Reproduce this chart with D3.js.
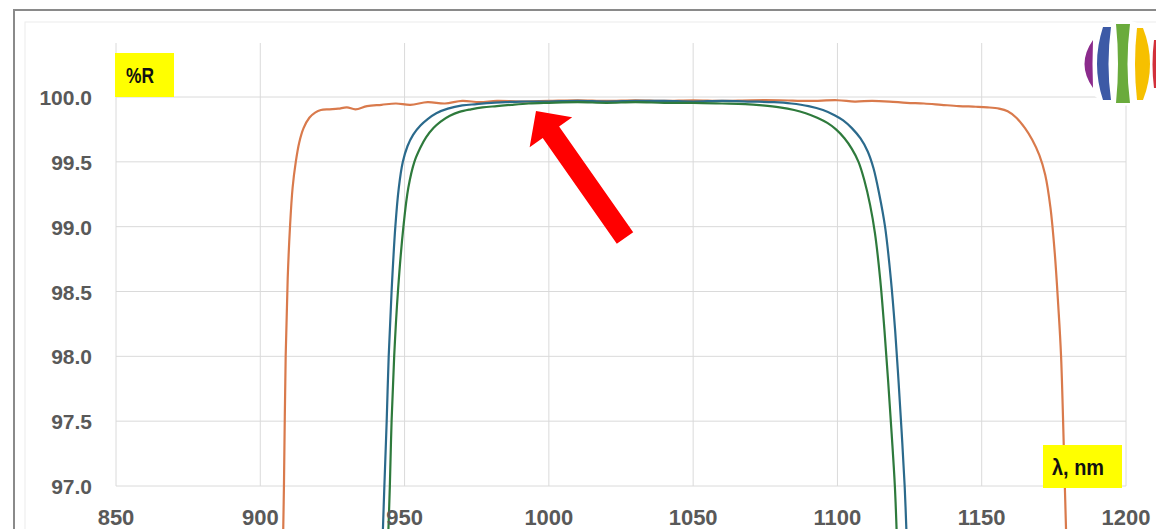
<!DOCTYPE html>
<html>
<head>
<meta charset="utf-8">
<script src="https://cdn.jsdelivr.net/npm/d3@7"></script>
<style>
  body { margin: 0; background: #fff; }
  svg { display: block; font-family: "Liberation Sans", Arial, sans-serif; }
</style>
</head>
<body>
<div id="chart"></div>
<script>
// tick values
var xTicks = [850, 900, 950, 1000, 1050, 1100, 1150, 1200];
var yTicks = [97.0, 97.5, 98.0, 98.5, 99.0, 99.5, 100.0];

// reflectance curves, [wavelength nm, %R]
var orangeCurve = [
  [907.9, 96.6], [908.2, 97.0], [908.8, 98.0], [909.5, 98.6], [910.3, 99.0], [911.2, 99.3],
  [912.3, 99.5], [913.5, 99.65], [915, 99.76], [917, 99.84], [919, 99.88], [921, 99.9],
  [924, 99.905], [927, 99.91], [930, 99.92], [933, 99.905], [937, 99.93], [942, 99.94],
  [947, 99.95], [952, 99.94], [958, 99.96], [964, 99.95], [970, 99.97], [976, 99.96],
  [982, 99.97], [990, 99.965], [1000, 99.97], [1010, 99.975], [1020, 99.97], [1030, 99.975],
  [1040, 99.97], [1050, 99.975], [1060, 99.97], [1070, 99.975], [1080, 99.975], [1090, 99.97],
  [1100, 99.975], [1106, 99.965], [1112, 99.97], [1118, 99.965], [1124, 99.955], [1130, 99.95],
  [1136, 99.94], [1142, 99.93], [1148, 99.925], [1152, 99.92], [1156, 99.91], [1159, 99.89],
  [1162, 99.84], [1165, 99.76], [1167.5, 99.67], [1170, 99.55], [1172, 99.4], [1173.8, 99.15],
  [1175.3, 98.8], [1176.5, 98.4], [1177.5, 98.0], [1178.8, 97.0], [1179.3, 96.6]
];
var blueCurve = [
  [942.4, 96.6], [943, 97.0], [943.8, 97.5], [944.5, 98.0], [945.5, 98.5], [946.8, 99.0],
  [948, 99.3], [949.4, 99.5], [951, 99.62], [953, 99.71], [955.5, 99.78], [958, 99.83],
  [961, 99.875], [965, 99.91], [970, 99.935], [975, 99.945], [980, 99.955], [985, 99.96],
  [990, 99.965], [1000, 99.965], [1010, 99.97], [1020, 99.965], [1030, 99.97], [1040, 99.97],
  [1050, 99.965], [1060, 99.97], [1070, 99.965], [1078, 99.96], [1084, 99.95], [1090, 99.93],
  [1095, 99.9], [1099, 99.86], [1102, 99.82], [1105, 99.76], [1108, 99.68], [1110.5, 99.58],
  [1112.5, 99.45], [1114.5, 99.25], [1116.5, 99.0], [1118.5, 98.6], [1120, 98.2], [1121.2, 97.8],
  [1122.3, 97.4], [1123.3, 97.0], [1124, 96.6]
];
var greenCurve = [
  [944.3, 96.6], [944.9, 97.0], [945.5, 97.5], [946.4, 98.0], [947.7, 98.5], [949.6, 99.0],
  [951.3, 99.3], [953.4, 99.5], [955.5, 99.61], [957.5, 99.69], [960, 99.76], [962.5, 99.81],
  [965.7, 99.855], [969, 99.885], [973, 99.905], [977, 99.92], [982, 99.93], [987, 99.94],
  [993, 99.95], [1000, 99.955], [1010, 99.96], [1020, 99.955], [1030, 99.96], [1040, 99.955],
  [1050, 99.955], [1060, 99.95], [1068, 99.945], [1074, 99.935], [1080, 99.92], [1085, 99.9],
  [1089, 99.875], [1093, 99.84], [1096.5, 99.8], [1099.5, 99.75], [1102.5, 99.68], [1105, 99.6],
  [1107.3, 99.5], [1109.3, 99.36], [1111.3, 99.17], [1113, 98.95], [1114.8, 98.6], [1116.3, 98.2],
  [1117.6, 97.8], [1118.8, 97.4], [1119.9, 97.0], [1120.6, 96.6]
];

var W = 1156, H = 529;
var plot = {left: 116, right: 1126, top: 43, bottom: 529};

var svg = d3.select("#chart").append("svg")
    .attr("width", W)
    .attr("height", H);

// frame
svg.append("rect")
    .attr("x", 14).attr("y", 10).attr("width", W).attr("height", H)
    .attr("fill", "#fff").attr("stroke", "#8a8a8a").attr("stroke-width", 2);
svg.append("rect")
    .attr("x", 25).attr("y", 22).attr("width", W).attr("height", H)
    .attr("fill", "none").attr("stroke", "#ececec").attr("stroke-width", 1);

var x = d3.scaleLinear().domain([850, 1200]).range([plot.left, plot.right]);
// 97 -> 486, 100 -> 97
var y = d3.scaleLinear().domain([97, 100]).range([486, 97]);

// grid
svg.append("g").selectAll("line")
    .data(yTicks)
  .enter().append("line")
    .attr("x1", plot.left).attr("x2", plot.right)
    .attr("y1", function(d) { return y(d); })
    .attr("y2", function(d) { return y(d); })
    .attr("stroke", "#dadada").attr("stroke-width", 1);

svg.append("g").selectAll("line")
    .data(xTicks)
  .enter().append("line")
    .attr("x1", function(d) { return x(d); })
    .attr("x2", function(d) { return x(d); })
    .attr("y1", plot.top).attr("y2", y(97))
    .attr("stroke", "#dadada").attr("stroke-width", 1);

// y labels
svg.append("g").selectAll("text")
    .data(yTicks)
  .enter().append("text")
    .attr("x", 92)
    .attr("y", function(d) { return y(d) + 8; })
    .attr("text-anchor", "end")
    .attr("font-size", 21)
    .attr("font-weight", "bold")
    .attr("fill", "#595959")
    .text(function(d) { return d.toFixed(1); });

// curves
svg.append("clipPath").attr("id", "plotclip")
  .append("rect")
    .attr("x", plot.left).attr("y", plot.top)
    .attr("width", plot.right - plot.left).attr("height", plot.bottom - plot.top);

var line = d3.line()
    .x(function(d) { return x(d[0]); })
    .y(function(d) { return y(d[1]); })
    .curve(d3.curveCatmullRom.alpha(0.5));

var series = [
  {data: orangeCurve, color: "#d97a4c"},
  {data: blueCurve, color: "#2b6a8c"},
  {data: greenCurve, color: "#2e7a3c"}
];

svg.append("g")
    .attr("clip-path", "url(#plotclip)")
  .selectAll("path")
    .data(series)
  .enter().append("path")
    .attr("d", function(d) { return line(d.data); })
    .attr("fill", "none")
    .attr("stroke", function(d) { return d.color; })
    .attr("stroke-width", 2.2);

// x labels
svg.append("g").selectAll("text")
    .data(xTicks)
  .enter().append("text")
    .attr("x", function(d) { return x(d); })
    .attr("y", 525)
    .attr("text-anchor", "middle")
    .attr("font-size", 22)
    .attr("font-weight", "bold")
    .attr("fill", "#595959")
    .text(function(d) { return d; });

// axis name boxes
svg.append("rect")
    .attr("x", 115).attr("y", 53).attr("width", 59).attr("height", 44)
    .attr("fill", "#ffff00");
svg.append("text")
    .attr("x", 126).attr("y", 83)
    .attr("font-size", 22).attr("font-weight", "bold").attr("fill", "#111")
    .attr("textLength", 28).attr("lengthAdjust", "spacingAndGlyphs")
    .text("%R");

svg.append("rect")
    .attr("x", 1043).attr("y", 445).attr("width", 79).attr("height", 43)
    .attr("fill", "#ffff00");
svg.append("text")
    .attr("x", 1052).attr("y", 475)
    .attr("font-size", 22).attr("font-weight", "bold").attr("fill", "#111")
    .attr("textLength", 52).attr("lengthAdjust", "spacingAndGlyphs")
    .text("λ, nm");

// red arrow
var tip = [536, 111], tail = [625, 238];
var dx = tail[0] - tip[0], dy = tail[1] - tip[1];
var len = Math.sqrt(dx * dx + dy * dy);
var ux = dx / len, uy = dy / len, px = -uy, py = ux;
var headLen = 26, headHalf = 26, shaftHalf = 10;
var bx = tip[0] + ux * headLen, by = tip[1] + uy * headLen;
var arrowPts = [
  tip,
  [bx + px * headHalf, by + py * headHalf],
  [bx + px * shaftHalf, by + py * shaftHalf],
  [tail[0] + px * shaftHalf, tail[1] + py * shaftHalf],
  [tail[0] - px * shaftHalf, tail[1] - py * shaftHalf],
  [bx - px * shaftHalf, by - py * shaftHalf],
  [bx - px * headHalf, by - py * headHalf]
];
svg.append("polygon")
    .attr("points", arrowPts.map(function(p) { return p.join(","); }).join(" "))
    .attr("fill", "#ff0000");

// logo
var logo = svg.append("g");
logo.append("circle").attr("cx", 1122).attr("cy", 63).attr("r", 43).attr("fill", "#fff");
logo.append("path")
    .attr("d", "M1093,40 Q1076,64 1093,88 Q1092,64 1093,40 Z")
    .attr("fill", "#8b2b8c");
logo.append("path")
    .attr("d", "M1103,27 Q1091,64 1103,100 L1111,100 Q1106,64 1111,27 Z")
    .attr("fill", "#3d5aa6");
logo.append("path")
    .attr("d", "M1116,24 Q1120,64 1116,103 L1130,103 Q1125,64 1130,24 Z")
    .attr("fill", "#6aab3c");
logo.append("path")
    .attr("d", "M1137,28 Q1133,64 1137,100 L1143,100 Q1157,64 1143,28 Z")
    .attr("fill", "#f6c000");
logo.append("path")
    .attr("d", "M1154,40 Q1151,64 1154,88 L1156,88 L1156,40 Z")
    .attr("fill", "#d2303a");
</script>
</body>
</html>
